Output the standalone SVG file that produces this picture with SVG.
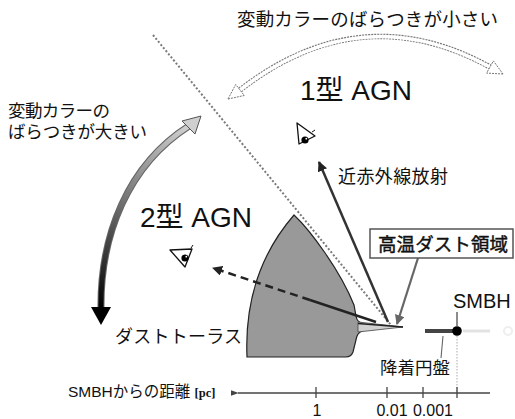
<svg xmlns="http://www.w3.org/2000/svg" width="515" height="419" viewBox="0 0 515 419">
  <defs>
    <style>
      .jp { font-family: "Liberation Sans", "Noto Sans CJK JP", sans-serif; fill: #111; }
      .big { font-family: "Liberation Sans", "Noto Sans CJK JP", sans-serif; font-size: 28px; fill: #111; }
      .tick { stroke: #444; stroke-width: 1.3; }
      .num { font-family: "Liberation Sans", sans-serif; font-size: 16px; fill: #111; text-anchor: middle; }
      .lead { stroke: #666; fill: none; }
    </style>
    <linearGradient id="sweep" gradientUnits="userSpaceOnUse" x1="100" y1="310" x2="195" y2="120">
      <stop offset="0" stop-color="#000"/>
      <stop offset="0.45" stop-color="#666"/>
      <stop offset="1" stop-color="#d8d8d8"/>
    </linearGradient>
    <marker id="headDark" viewBox="0 0 10 10" refX="9" refY="5" markerWidth="4" markerHeight="4" orient="auto-start-reverse" markerUnits="strokeWidth">
      <path d="M0 0 L10 5 L0 10 Z" fill="#222"/>
    </marker>
    <marker id="headGray" viewBox="0 0 10 10" refX="9" refY="5" markerWidth="4.5" markerHeight="4.5" orient="auto" markerUnits="strokeWidth">
      <path d="M0 0 L10 5 L0 10 Z" fill="#666"/>
    </marker>
    <marker id="headAxis" viewBox="0 0 10 10" refX="1" refY="5" markerWidth="6" markerHeight="6" orient="auto-start-reverse" markerUnits="strokeWidth">
      <path d="M0 5 L10 1.5 L10 8.5 Z" fill="#444"/>
    </marker>
  </defs>

  <!-- boundary of the opening angle -->
  <line x1="153" y1="35" x2="391" y2="325" stroke="#7a7a7a" stroke-width="2" stroke-dasharray="2 2"/>

  <!-- dust torus -->
  <g id="torus">
    <path d="M247 357 C245 310 255 260 294 215 C310 230 340 270 354 305 L356 316 Q357 322 362 323 L362 331 Q357 333 356 340 L353 352 Q351 357 346 357 Z" fill="#999" stroke="#222" stroke-width="1.2"/>
    <path d="M358 322 L403 327 L358 332 Z" fill="#d0d0d0" stroke="#444" stroke-width="0.8"/>
    <line x1="358" y1="323.5" x2="403" y2="327" stroke="#222" stroke-width="1.3"/>
  </g>

  <!-- connectors -->
  <g id="connectors">
    <!-- line of sight to the type-2 observer -->
    <line x1="376" y1="322" x2="310" y2="300" stroke="#222" stroke-width="2.5"/>
    <line x1="310" y1="300" x2="213" y2="268" stroke="#222" stroke-width="2.5" stroke-dasharray="8 5" marker-end="url(#headDark)"/>
    <!-- near-infrared emission -->
    <line x1="388" y1="322" x2="319" y2="162" stroke="#333" stroke-width="2.5" marker-end="url(#headDark)"/>
    <!-- callout to the hot dust region -->
    <line x1="418" y1="258" x2="397" y2="324" stroke="#666" stroke-width="2.2" marker-end="url(#headGray)"/>
    <!-- SMBH leader -->
    <line x1="457" y1="312" x2="457" y2="326" stroke="#666" stroke-width="1.5"/>
    <!-- accretion disk leader -->
    <line x1="443" y1="336" x2="441" y2="358" class="lead" stroke-width="1.1"/>
    <!-- projection down to the axis -->
    <line x1="457" y1="336" x2="457" y2="393" stroke="#aaa" stroke-width="1" stroke-dasharray="1.5 1.5"/>
  </g>

  <!-- small colour-variation range, double hollow arrow -->
  <g id="arrow-small">
    <path d="M240 90 Q361 -4 490 67" fill="none" stroke="#777" stroke-width="5.5" stroke-dasharray="2 1"/>
    <path d="M240 90 Q361 -4 490 67" fill="none" stroke="#fff" stroke-width="3.5"/>
    <polygon points="228,99 244.3,95.5 235.7,84.5" fill="#fff" stroke="#777" stroke-width="1" stroke-dasharray="2 1"/>
    <polygon points="503,74 486.6,73.1 493.4,60.9" fill="#fff" stroke="#777" stroke-width="1" stroke-dasharray="2 1"/>
  </g>

  <!-- large colour-variation range, gradient arrow -->
  <g id="arrow-large">
    <path d="M101 309 C100 235 128 165 189 126" fill="none" stroke="#666" stroke-width="7"/>
    <path d="M101 309 C100 235 128 165 189 126" fill="none" stroke="url(#sweep)" stroke-width="5"/>
    <polygon points="201,116 182,121 195,134" fill="#cfcfcf" stroke="#555" stroke-width="1"/>
    <polygon points="101,325 91,307 111,307" fill="#000"/>
  </g>

  <!-- observers -->
  <g id="eye-type1">
    <path d="M297 123 L315 136 L299 144 Z" fill="#fff" stroke="#111" stroke-width="1.3" stroke-linejoin="round"/>
    <line x1="312" y1="132" x2="315" y2="130" stroke="#111" stroke-width="1"/>
    <circle cx="305" cy="140" r="3.6" fill="#000"/>
    <circle cx="306.3" cy="138.7" r="0.9" fill="#fff"/>
  </g>
  <g id="eye-type2">
    <path d="M170 250 L192 249 L185 267 Z" fill="#fff" stroke="#111" stroke-width="1.3" stroke-linejoin="round"/>
    <line x1="191" y1="248" x2="193" y2="245" stroke="#111" stroke-width="1"/>
    <circle cx="185" cy="258" r="3.6" fill="#000"/>
    <circle cx="186.3" cy="256.7" r="0.9" fill="#fff"/>
  </g>

  <!-- central engine -->
  <g id="smbh">
    <line x1="425" y1="331" x2="453" y2="331" stroke="#444" stroke-width="4"/>
    <line x1="463" y1="331" x2="490" y2="331" stroke="#e2e2e2" stroke-width="3"/>
    <circle cx="508" cy="331" r="4" fill="none" stroke="#eee" stroke-width="2"/>
    <circle cx="457" cy="331" r="4.8" fill="#000"/>
    <text x="453" y="308" font-family="Liberation Sans, sans-serif" font-size="20" fill="#111">SMBH</text>
  </g>

  <!-- hot dust region label -->
  <g id="hot-dust">
    <rect x="370" y="229" width="143" height="29" fill="#fff" stroke="#555" stroke-width="1.5"/>
    <text x="378" y="251" class="jp" font-size="18.5" stroke="#111" stroke-width="0.45" textLength="130">高温ダスト領域</text>
  </g>

  <!-- labels -->
  <g id="labels">
    <text x="237" y="26" class="jp" font-size="18.5" textLength="261">変動カラーのばらつきが小さい</text>
    <text x="8" y="116.5" class="jp" font-size="17.5" textLength="102">変動カラーの</text>
    <text x="8" y="138" class="jp" font-size="17.5" textLength="139">ばらつきが大きい</text>
    <text x="300" y="100" class="big">1型 AGN</text>
    <text x="140" y="227" class="big">2型 AGN</text>
    <text x="338" y="183" class="jp" font-size="18" textLength="110">近赤外線放射</text>
    <text x="115" y="343" class="jp" font-size="18" textLength="127">ダストトーラス</text>
    <text x="380" y="374" class="jp" font-size="17.5" textLength="70">降着円盤</text>
  </g>

  <!-- distance axis -->
  <g id="axis">
    <line x1="490" y1="393" x2="238" y2="393" stroke="#444" stroke-width="1.3" marker-end="url(#headAxis)"/>
    <line x1="316" y1="387" x2="316" y2="398" class="tick"/>
    <line x1="387" y1="387" x2="387" y2="398" class="tick"/>
    <line x1="423" y1="387" x2="423" y2="398" class="tick"/>
    <line x1="457" y1="387" x2="457" y2="398" class="tick"/>
    <text x="317" y="416" class="num">1</text>
    <text x="392" y="416" class="num">0.01</text>
    <text x="433" y="416" class="num">0.001</text>
    <text x="68" y="397" class="jp" font-size="15.5">SMBHからの距離 <tspan font-family="Liberation Serif, serif" font-weight="bold" font-size="12.5">[pc]</tspan></text>
  </g>
</svg>
